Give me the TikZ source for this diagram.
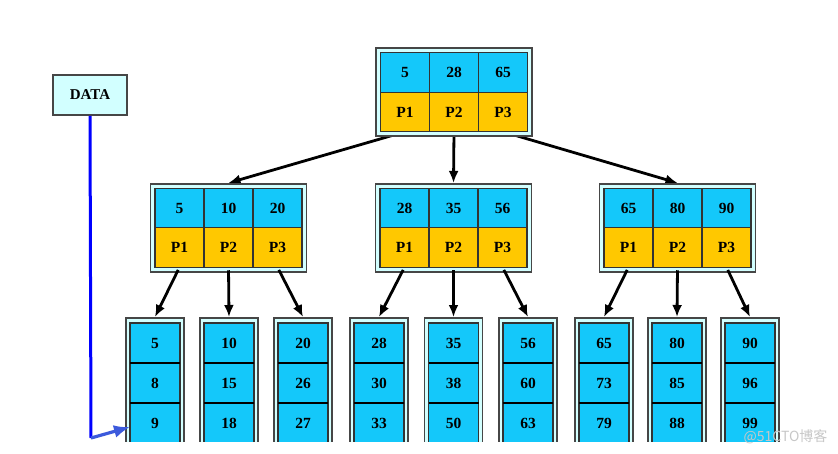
\documentclass[tikz,border=0pt]{standalone}
\usepackage{fontspec}
\setmainfont{Liberation Serif}
\newfontfamily\cjkfont{Noto Sans CJK SC}
\usepackage{tikz}
\usetikzlibrary{arrows.meta,positioning,fit,backgrounds}
\definecolor{keyblue}{RGB}{20,200,250}
\definecolor{ptryellow}{RGB}{255,200,0}
\definecolor{framecyan}{RGB}{210,255,255}
\definecolor{frameline}{RGB}{70,70,70}
\definecolor{linkblue}{RGB}{0,0,255}
\definecolor{arrowblue}{RGB}{60,90,220}
\pgfdeclarelayer{links}
\pgfsetlayers{links,background,main}

\begin{document}
\begin{tikzpicture}[x=1pt, y=-1pt,
        cell/.style={rectangle, draw=black!80, line width=1.1pt, outer sep=0pt, inner sep=0pt,
            minimum width=49pt, minimum height=39.5pt, font=\fontsize{15.5}{15.5}\selectfont\bfseries},
        keycell/.style={cell, fill=keyblue},
        ptrcell/.style={cell, fill=ptryellow},
        leafcell/.style={cell, fill=keyblue, minimum width=50pt, minimum height=40pt},
        frame/.style={rectangle, draw=frameline, fill=framecyan, line width=1.6pt, inner sep=4.5pt},
        arrow/.style={-{Latex[length=12pt,width=10pt]}, line width=2.8pt, black}
    ]
        \useasboundingbox (0,0) rectangle (838,453);

        % root node
        \foreach \k [count=\i] in {5,28,65} {
            \node[keycell] (rk\i) at (356+49*\i,72.5) {\k};
            \node[ptrcell] (rp\i) at (356+49*\i,112) {P\i};
        }
        \begin{scope}[on background layer]
            \node[frame, fit=(rk1)(rp3)] (root) {};
        \end{scope}

        % second level
        \foreach \cx/\keys [count=\m] in {130.5/{5,10,20}, 355.5/{28,35,56}, 579.5/{65,80,90}} {
            \foreach \k [count=\i] in \keys {
                \node[keycell] (m\m-k\i) at (\cx+49*\i,208) {\k};
                \node[ptrcell] (m\m-p\i) at (\cx+49*\i,247.5) {P\i};
            }
            \begin{scope}[on background layer]
                \node[frame, fit=(m\m-k1)(m\m-p3)] (mid\m) {};
            \end{scope}
        }

        % leaves, cut off at the bottom
        \begin{scope}
            \clip (0,0) rectangle (838,441);
            \foreach \lx/\a/\b/\c [count=\n] in {155/5/8/9, 229/10/15/18, 303/20/26/27,
                    379/28/30/33, 453.5/35/38/50, 528/56/60/63,
                    604/65/73/79, 677/80/85/88, 750/90/96/99} {
                \node[frame, minimum width=58pt, minimum height=140pt, anchor=north] (leaf\n) at (\lx,317) {};
                \node[leafcell] (l\n a) at (\lx,343) {\a};
                \node[leafcell] (l\n b) at (\lx,383) {\b};
                \node[leafcell] (l\n c) at (\lx,423) {\c};
                \draw[line width=2.4pt] (l\n a.south west) -- (l\n a.south east);
                \draw[line width=2.4pt] (l\n b.south west) -- (l\n b.south east);
            }
        \end{scope}

        % tree links
        \begin{pgfonlayer}{links}
            \foreach \i in {1,2,3}
                \draw[arrow] (rp\i.south) -- (mid\i.north);
        \end{pgfonlayer}
        \foreach \m in {1,2,3} {
            \foreach \i in {1,2,3} {
                \pgfmathtruncatemacro{\n}{3*(\m-1)+\i}
                \draw[arrow, shorten <=3pt] (m\m-p\i.south) -- (leaf\n.north);
            }
        }

        % data pointer
        \node[rectangle, draw=frameline, fill=framecyan, line width=1.6pt, minimum width=74pt, minimum height=40pt,
            font=\fontsize{15}{15}\selectfont\bfseries] (data) at (90,95) {DATA};
        \coordinate (corner) at (91,438);
        \draw[linkblue, line width=3pt] (data.south) -- (corner);
        \draw[arrowblue, line width=3.2pt, -{Latex[length=16pt,width=13pt]}] (corner) -- ([yshift=-4pt]l1c.west);

        \node[text=black!22, font=\cjkfont\fontsize{14}{14}\selectfont, anchor=east] (mark) at (831,437) {@51CTO博客};
    \end{tikzpicture}
\end{document}
